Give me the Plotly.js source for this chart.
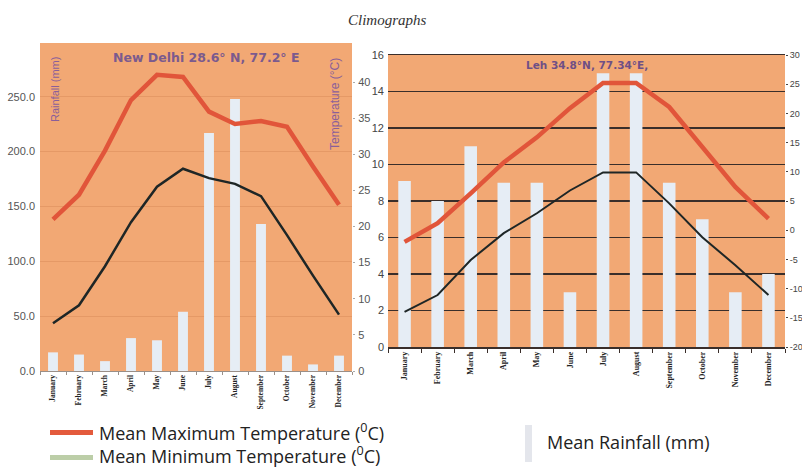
<!DOCTYPE html>
<html>
<head>
<meta charset="utf-8">
<script src="https://cdn.plot.ly/plotly-3.0.1.min.js"></script>
<style>html,body{margin:0;padding:0;background:#fff;}#chart{width:802px;height:470px;}</style>
</head>
<body>
<div id="chart"></div>
<script>
// ---- data ----
var months = ["January","February","March","April","May","June","July","August","September","October","November","December"];
var delhiRain = [17, 15, 9, 30, 28, 54, 217, 248, 134, 14, 6, 14];
var delhiMax  = [21, 24.4, 30.5, 37.5, 41, 40.7, 35.9, 34.2, 34.6, 33.8, 28.3, 23];
var delhiMin  = [6.6, 9.1, 14.5, 20.6, 25.5, 28, 26.7, 25.9, 24.2, 18.8, 13.2, 7.8];
var lehRain = [9.1, 8.0, 11.0, 9.0, 9.0, 3.0, 15.0, 15.0, 9.0, 7.0, 3.0, 4.0];
var lehMax  = [-2.0, 1.2, 6.3, 11.6, 15.9, 20.9, 25.2, 25.2, 21.1, 14.2, 7.4, 2.0];
var lehMin  = [-14.0, -11.1, -5.1, -0.5, 2.9, 6.8, 9.9, 9.9, 4.6, -1.2, -6.0, -11.1];
var delhiRainTicks = [0, 50, 100, 150, 200, 250];
var delhiTempTicks = [0, 5, 10, 15, 20, 25, 30, 35, 40];
var lehRainTicks = [0, 2, 4, 6, 8, 10, 12, 14, 16];
var lehTempTicks = [-20, -15, -10, -5, 0, 5, 10, 15, 20, 25, 30];
var lehTempLabels = ["-20", "-15", "-10", "-5", "0", "5", "10", "15", "20", "25", "30"];

var W = 802, H = 470;
function px(x){ return x / W; }
function py(y){ return 1 - y / H; }

var RED = "#e1553a", BLACK = "#1e2626", BAR = "#e6edf5";

var traces = [
  {type:"bar", x:months, y:delhiRain, xaxis:"x", yaxis:"y", marker:{color:BAR}, width:0.38},
  {type:"scatter", mode:"lines", x:months, y:delhiMax, xaxis:"x", yaxis:"y2", line:{color:RED, width:4.5}},
  {type:"scatter", mode:"lines", x:months, y:delhiMin, xaxis:"x", yaxis:"y2", line:{color:BLACK, width:2.5}},
  {type:"bar", x:months, y:lehRain, xaxis:"x2", yaxis:"y3", marker:{color:BAR}, width:0.38},
  {type:"scatter", mode:"lines", x:months, y:lehMax, xaxis:"x2", yaxis:"y4", line:{color:RED, width:4.5}},
  {type:"scatter", mode:"lines", x:months, y:lehMin, xaxis:"x2", yaxis:"y4", line:{color:BLACK, width:2}}
];

var tickFontSmall = {family:"Liberation Sans, Arial, sans-serif", size:11, color:"#555"};
var monthFont = {family:"Liberation Serif, serif", size:7.5, color:"#222", weight:"bold"};
var monthFont2 = {family:"Liberation Serif, serif", size:8, color:"#222", weight:"bold"};

function note(x, y, text, font, extra){
  var a = {xref:"paper", yref:"paper", x:px(x), y:py(y), text:text, showarrow:false,
           xanchor:"center", yanchor:"middle", font:font};
  if (extra) for (var k in extra) a[k] = extra[k];
  return a;
}

var legendFont = {family:"Open Sans, sans-serif", size:18, color:"#222"};
var purple = "#7b5a8e";

var layout = {
  width:W, height:H,
  margin:{l:0, r:0, t:0, b:0, pad:0},
  paper_bgcolor:"#ffffff",
  plot_bgcolor:"#f2a874",
  showlegend:false,
  xaxis:{
    domain:[px(40), px(352)], anchor:"y", type:"category", range:[-0.5, 11.5],
    showline:true, linecolor:"#9a8f88", linewidth:1,
    ticks:"outside", tickson:"boundaries", ticklen:3, tickcolor:"#9a8f88",
    tickangle:-90, tickfont:monthFont, showgrid:false
  },
  yaxis:{
    domain:[py(371), py(43)], anchor:"x", range:[0, 299],
    tickvals:delhiRainTicks, tickformat:".1f", tickfont:tickFontSmall,
    showgrid:true, gridcolor:"rgba(170,90,40,0.18)", gridwidth:1,
    zeroline:false, showline:false, ticks:"", ticklabelstandoff:4
  },
  yaxis2:{
    domain:[py(371), py(43)], anchor:"x", overlaying:"y", side:"right", range:[0, 45.4],
    tickvals:delhiTempTicks, tickfont:tickFontSmall, showgrid:false, zeroline:false,
    ticks:"outside", ticklen:2, tickcolor:"#aaa", ticklabelstandoff:1
  },
  xaxis2:{
    domain:[px(388), px(785)], anchor:"y3", type:"category", range:[-0.5, 11.5],
    showline:true, mirror:true, linecolor:"#3a2e2a", linewidth:1.5,
    ticks:"outside", tickson:"boundaries", ticklen:4, tickcolor:"#3a2e2a",
    tickangle:-90, tickfont:monthFont2, showgrid:false
  },
  yaxis3:{
    domain:[py(347), py(55)], anchor:"x2", range:[0, 16],
    tickvals:lehRainTicks, tickfont:{family:"Liberation Sans, Arial, sans-serif", size:11, color:"#444"},
    showgrid:true, gridcolor:"#3a2e2a", gridwidth:1.3, zeroline:false, showline:false,
    ticks:"", ticklabelstandoff:3
  },
  yaxis4:{
    domain:[py(347), py(55)], anchor:"x2", overlaying:"y3", side:"right", range:[-20, 30],
    tickvals:lehTempTicks, ticktext:lehTempLabels,
    tickfont:{family:"Liberation Sans, Arial, sans-serif", size:9, color:"#444"},
    showgrid:false, zeroline:false, ticks:"outside", ticklen:2, tickcolor:"#444", ticklabelstandoff:0
  },
  annotations:[
    note(387, 20, "Climographs", {family:"Liberation Serif, serif", size:15, color:"#333", style:"italic"}),
    note(206, 57, "New Delhi 28.6° N, 77.2° E", {family:"DejaVu Sans, sans-serif", size:12.5, color:purple, weight:"bold"}),
    note(55, 90, "Rainfall (mm)", {family:"Liberation Sans, Arial, sans-serif", size:11, color:"#8a5f9a"}, {textangle:-90}),
    note(335, 104, "Temperature (°C)", {family:"Liberation Sans, Arial, sans-serif", size:12, color:"#8a5f9a"}, {textangle:-90}),
    note(587, 65, "Leh 34.8°N, 77.34°E,", {family:"DejaVu Sans, sans-serif", size:10.5, color:"#6e4f86", weight:"bold"}),
    note(97, 432, "Mean Maximum Temperature (<sup>0</sup>C)", legendFont, {xanchor:"left"}),
    note(97, 455, "Mean Minimum Temperature (<sup>0</sup>C)", legendFont, {xanchor:"left"}),
    note(545, 442, "Mean Rainfall (mm)", legendFont, {xanchor:"left"})
  ],
  shapes:[
    {type:"rect", xref:"paper", yref:"paper", x0:px(50), x1:px(93), y0:py(430), y1:py(435), fillcolor:"#e35a3c", line:{width:0}},
    {type:"rect", xref:"paper", yref:"paper", x0:px(50), x1:px(93), y0:py(455), y1:py(460), fillcolor:"#bccea8", line:{width:0}},
    {type:"rect", xref:"paper", yref:"paper", x0:px(525), x1:px(532), y0:py(425), y1:py(462), fillcolor:"#e4e6ec", line:{width:0}}
  ]
};

Plotly.newPlot("chart", traces, layout, {staticPlot:true, displayModeBar:false});
</script>
</body>
</html>
